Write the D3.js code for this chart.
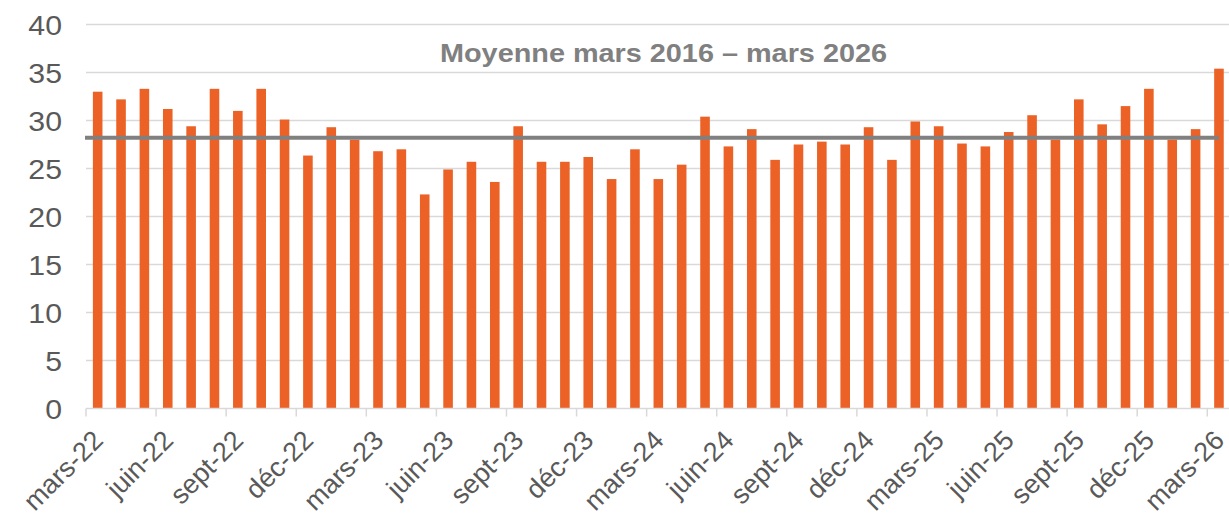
<!DOCTYPE html>
<head>
  <meta charset="utf-8" />
  <script src="https://d3js.org/d3.v7.min.js"></script>
  <style>
    body {
      margin: 0;
      background: #fff;
    }
    svg {
      display: block;
      font-family: "Liberation Sans", Arial, sans-serif;
    }
    .grid line {
      stroke: #d9d9d9;
      stroke-width: 1.5;
    }
    .axis text {
      fill: #595959;
    }
  </style>
</head>

<body>
  <svg width="1229" height="518"></svg>

  <script>
    // monthly values, mars-22 .. mars-26
    var months = [
      "mars-22", "avr-22", "mai-22", "juin-22", "juil-22", "août-22", "sept-22", "oct-22", "nov-22", "déc-22", "janv-23", "févr-23",
      "mars-23", "avr-23", "mai-23", "juin-23", "juil-23", "août-23", "sept-23", "oct-23", "nov-23", "déc-23", "janv-24", "févr-24",
      "mars-24", "avr-24", "mai-24", "juin-24", "juil-24", "août-24", "sept-24", "oct-24", "nov-24", "déc-24", "janv-25", "févr-25",
      "mars-25", "avr-25", "mai-25", "juin-25", "juil-25", "août-25", "sept-25", "oct-25", "nov-25", "déc-25", "janv-26", "févr-26",
      "mars-26"
    ];
    var values = [
      33.0, 32.2, 33.3, 31.2, 29.4, 33.3, 31.0, 33.3, 30.1, 26.35, 29.3, 28.0,
      26.8, 27.0, 22.3, 24.9, 25.7, 23.6, 29.4, 25.7, 25.7, 26.2, 23.9, 27.0,
      23.9, 25.4, 30.4, 27.3, 29.1, 25.9, 27.5, 27.8, 27.5, 29.3, 25.9, 29.9,
      29.4, 27.6, 27.3, 28.8, 30.55, 28.0, 32.2, 29.6, 31.5, 33.3, 28.0, 29.1,
      35.4
    ];
    var tickLabels = [
      "mars-22", "juin-22", "sept-22", "déc-22", "mars-23", "juin-23", "sept-23", "déc-23",
      "mars-24", "juin-24", "sept-24", "déc-24", "mars-25", "juin-25", "sept-25", "déc-25", "mars-26"
    ];
    var yTicks = [0, 5, 10, 15, 20, 25, 30, 35, 40];
    var meanValue = 28.2;
    var meanLabel = "Moyenne mars 2016 – mars 2026";

    var left = 86;
    var step = 23.36;
    var right = left + months.length * step;
    var svg = d3.select("svg");

    var x = d3
      .scaleBand()
      .domain(months)
      .range([left, right])
      .paddingInner(0.59)
      .paddingOuter(0.295);
    var y = d3.scaleLinear().domain([0, 40]).range([408.5, 24.5]);

    // gridlines
    svg
      .append("g")
      .attr("class", "grid")
      .selectAll("line")
      .data(yTicks.slice(1))
      .enter()
      .append("line")
      .attr("x1", left)
      .attr("x2", 1229)
      .attr("y1", function (d) { return y(d); })
      .attr("y2", function (d) { return y(d); });

    // y labels
    var yAxis = svg
      .append("g")
      .attr("class", "axis")
      .attr("transform", "translate(" + (left - 24) + ",0)")
      .call(d3.axisLeft(y).tickValues(yTicks).tickSize(0).tickPadding(0));
    yAxis.select(".domain").remove();
    yAxis
      .selectAll("text")
      .style("font-size", "28px")
      .attr("transform", "scale(1.08,1)")
      .attr("dy", "0.36em");

    // bars
    svg
      .append("g")
      .selectAll("rect")
      .data(values)
      .enter()
      .append("rect")
      .attr("x", function (d, i) { return x(months[i]); })
      .attr("width", x.bandwidth())
      .attr("y", function (d) { return y(d); })
      .attr("height", function (d) { return y(0) - y(d); })
      .attr("fill", "#eb6126");

    // x axis: ticks at band boundaries, labels at band centres
    var xa = svg.append("g");
    xa.append("line")
      .attr("x1", left)
      .attr("x2", 1229)
      .attr("y1", y(0))
      .attr("y2", y(0))
      .attr("stroke", "#d9d9d9")
      .attr("stroke-width", 1.5);
    xa.selectAll("line.tick")
      .data(tickLabels)
      .enter()
      .append("line")
      .attr("class", "tick")
      .attr("x1", function (d) { return x(d) - x.step() * 0.295; })
      .attr("x2", function (d) { return x(d) - x.step() * 0.295; })
      .attr("y1", y(0))
      .attr("y2", y(0) + 8)
      .attr("stroke", "#d9d9d9")
      .attr("stroke-width", 1.5);
    xa.selectAll("text")
      .data(tickLabels)
      .enter()
      .append("text")
      .attr("transform", function (d) {
        var cx = x(d) + x.bandwidth() / 2 + 7;
        return "translate(" + cx + ",442) rotate(-45)";
      })
      .attr("text-anchor", "end")
      .attr("fill", "#595959")
      .style("font-size", "27px")
      .text(function (d) { return d; });

    // mean line
    var lastCentre = x(months[months.length - 1]) + x.bandwidth() / 2;
    svg
      .append("line")
      .attr("x1", left - 1)
      .attr("x2", lastCentre)
      .attr("y1", y(meanValue))
      .attr("y2", y(meanValue))
      .attr("stroke", "#808080")
      .attr("stroke-width", 4);

    svg
      .append("text")
      .attr("x", 440)
      .attr("y", 62)
      .attr("textLength", 447)
      .attr("lengthAdjust", "spacingAndGlyphs")
      .attr("fill", "#808080")
      .style("font-size", "26.5px")
      .style("font-weight", "bold")
      .text(meanLabel);
  </script>
</body>
